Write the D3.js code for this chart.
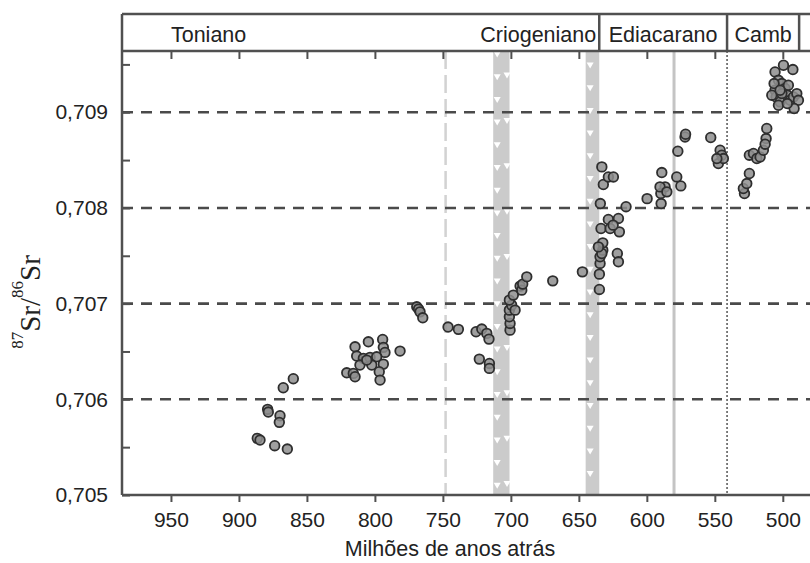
<!DOCTYPE html>
<html>
<head>
<meta charset="utf-8">
<script src="https://cdn.jsdelivr.net/npm/d3@7"></script>
<style>
  body { margin: 0; background: #fff; }
  svg { display: block; font-family: "Liberation Sans", Arial, sans-serif; }
</style>
</head>
<body>
<svg id="chart" width="810" height="563"></svg>
<script>
'use strict';

// age (Ma) and 87Sr/86Sr of each sample
var ages = [
    886.5, 884.5, 873.7, 864.4, 878.9, 878.4, 869.8, 870.3, 867.4, 860.0,
    820.7, 815.9, 814.6, 814.6, 804.8, 794.3, 793.8, 792.6, 781.5, 813.4,
    808.5, 803.6, 798.7, 811.0, 802.3, 793.8, 796.8, 796.2, 806.0,
    769.2, 767.9, 766.8, 764.8,
    746.2, 738.6, 725.6, 721.4, 717.7, 716.1, 723.2, 715.8, 715.8,
    700.6, 700.6, 701.1, 701.1, 699.4, 701.1, 698.2, 696.9, 693.2, 692.0, 691.3, 688.3,
    669.2, 647.4,
    634.9, 634.9, 634.4, 634.4, 632.4, 632.4, 633.1, 635.6, 621.7, 620.9,
    633.7, 628.3, 627.0, 620.9, 620.2, 624.8, 634.2, 615.3, 633.1, 632.0, 628.3, 624.6,
    599.8, 589.0, 586.6, 589.7, 589.5, 590.3, 585.3, 578.0, 575.0,
    577.2, 571.9, 571.5, 553.0, 546.1, 544.9, 547.4, 543.7, 548.5,
    528.2, 529.0, 526.5, 524.6, 524.6, 521.6, 519.1, 516.7, 514.3, 512.3, 511.8, 513.0,
    505.7, 499.5, 492.6, 503.2, 500.7, 498.3, 505.7, 504.9, 502.0, 503.2, 496.7,
    494.6, 492.2, 489.7, 488.5, 491.7, 496.7, 500.7, 508.1, 506.4, 495.9, 502.0
];
var ratios = [
    0.705592, 0.705574, 0.705515, 0.705480, 0.705895, 0.705867, 0.705828, 0.705759, 0.706121, 0.706215,
    0.706277, 0.706271, 0.706236, 0.706549, 0.706601, 0.706626, 0.706543, 0.706490, 0.706504, 0.706452,
    0.706428, 0.706438, 0.706444, 0.706358, 0.706358, 0.706368, 0.706288, 0.706201, 0.706410,
    0.706967, 0.706943, 0.706914, 0.706852,
    0.706755, 0.706731, 0.706706, 0.706734, 0.706689, 0.706629, 0.706420, 0.706375, 0.706323,
    0.706723, 0.706793, 0.706862, 0.706932, 0.706984, 0.707037, 0.707089, 0.706932, 0.707183, 0.707141, 0.707204, 0.707280,
    0.707238, 0.707332,
    0.707148, 0.707308, 0.707420, 0.707489, 0.707559, 0.707635, 0.707524, 0.707593, 0.707524, 0.707437,
    0.707785, 0.707879, 0.707785, 0.707890, 0.707750, 0.707820, 0.708046, 0.708013, 0.708429, 0.708245, 0.708324, 0.708324,
    0.708097, 0.708370, 0.708220, 0.708151, 0.708046, 0.708220, 0.708168, 0.708324, 0.708230,
    0.708593, 0.708742, 0.708770, 0.708736, 0.708603, 0.708551, 0.708464, 0.708516, 0.708516,
    0.708151, 0.708203, 0.708255, 0.708360, 0.708551, 0.708569, 0.708516, 0.708533, 0.708603, 0.708725, 0.708830, 0.708666,
    0.709421, 0.709491, 0.709446, 0.709334, 0.709300, 0.709248, 0.709230, 0.709160, 0.709108, 0.709073, 0.709178,
    0.709125, 0.709160, 0.709195, 0.709125, 0.709039, 0.709091, 0.709195, 0.709178, 0.709300, 0.709282, 0.709230
];

var xTicks = [950, 900, 850, 800, 750, 700, 650, 600, 550, 500];
var yTicks = [0.705, 0.706, 0.707, 0.708, 0.709];
var yMinorTicks = [0.7055, 0.7065, 0.7075, 0.7085, 0.7095];
var gridValues = [0.706, 0.707, 0.708, 0.709];

var periodNames = ["Toniano", "Criogeniano", "Ediacarano", "Camb"];
var periodEdges = [635, 541, 488];          // lines inside the header box
var glacialBands = [[713, 701], [645, 635]];
var dashedAge = 748;
var gaskiersAge = 580;
var cambrianBase = 541;

var svg = d3.select("#chart");
var plotLeft = 122, plotRight = 810, plotTop = 51, plotBottom = 495, boxTop = 14;
var frameColor = "#505050";

var x = d3.scaleLinear().domain([986, 480]).range([plotLeft, plotRight]);
var y = d3.scaleLinear().domain([0.705, 0.70964]).range([plotBottom, plotTop]);

var ptBR = d3.formatLocale({ decimal: ",", thousands: ".", grouping: [3], currency: ["", ""] });
var fmtRatio = ptBR.format(".3f");

// glacial bands with the little white triangles
var bands = svg.append("g");
bands.selectAll("rect").data(glacialBands).enter().append("rect")
    .attr("x", function(d) { return x(d[0]); })
    .attr("width", function(d) { return x(d[1]) - x(d[0]); })
    .attr("y", plotTop)
    .attr("height", plotBottom - plotTop)
    .attr("fill", "#cbcbcb");

var tri = "M-3.5,-2.5L3.5,-2.5L0,3.5Z";
var triCols = [
    { cx: x(glacialBands[0][0]) + 4, y0: 54, step: 22.7 },
    { cx: x(glacialBands[0][1]) - 2.5, y0: 75, step: 45.4 },
    { cx: x(glacialBands[1][0]) + 4.5, y0: 65, step: 22.7 }
];
triCols.forEach(function(c) {
    bands.selectAll(null).data(d3.range(c.y0, plotBottom - 4, c.step)).enter().append("path")
        .attr("d", tri)
        .attr("transform", function(v) { return "translate(" + c.cx + "," + v + ")"; })
        .attr("fill", "#fff");
});

// event lines
svg.append("line")
    .attr("x1", x(dashedAge)).attr("x2", x(dashedAge))
    .attr("y1", plotTop).attr("y2", plotBottom)
    .attr("stroke", "#d2d2d2").attr("stroke-width", 2.5)
    .attr("stroke-dasharray", "18,6");
svg.append("line")
    .attr("x1", x(gaskiersAge)).attr("x2", x(gaskiersAge))
    .attr("y1", plotTop).attr("y2", plotBottom)
    .attr("stroke", "#c4c4c4").attr("stroke-width", 3);
svg.append("line")
    .attr("x1", x(cambrianBase)).attr("x2", x(cambrianBase))
    .attr("y1", plotTop).attr("y2", plotBottom)
    .attr("stroke", "#555").attr("stroke-width", 1.5)
    .attr("stroke-dasharray", "2,2");

// horizontal dashed reference lines
svg.append("g").selectAll("line").data(gridValues).enter().append("line")
    .attr("x1", plotLeft).attr("x2", plotRight)
    .attr("y1", function(d) { return y(d); })
    .attr("y2", function(d) { return y(d); })
    .attr("stroke", "#4a4a4a").attr("stroke-width", 2.6)
    .attr("stroke-dasharray", "11,8");

// samples
svg.append("g").selectAll("circle").data(ages).enter().append("circle")
    .attr("cx", function(d) { return x(d); })
    .attr("cy", function(d, i) { return y(ratios[i]); })
    .attr("r", 4.8)
    .attr("fill", "#8e8e8e")
    .attr("fill-opacity", 0.85)
    .attr("stroke", "#2e2e2e")
    .attr("stroke-width", 1.8);

// axes
var xAxis = svg.append("g")
    .attr("transform", "translate(0," + plotBottom + ")")
    .call(d3.axisBottom(x).tickValues(xTicks).tickSize(7).tickPadding(10).tickFormat(d3.format("d")));
var xTopAxis = svg.append("g")
    .attr("transform", "translate(0," + plotTop + ")")
    .call(d3.axisTop(x).tickValues(xTicks).tickSize(-8).tickFormat(""));
var yAxis = svg.append("g")
    .attr("transform", "translate(" + plotLeft + ",0)")
    .call(d3.axisLeft(y).tickValues(yTicks).tickSize(-8).tickPadding(14).tickFormat(fmtRatio));
var yMinor = svg.append("g")
    .attr("transform", "translate(" + plotLeft + ",0)")
    .call(d3.axisLeft(y).tickValues(yMinorTicks).tickSize(-8).tickFormat(""));

[xAxis, xTopAxis, yAxis, yMinor].forEach(function(g) {
    g.select(".domain").remove();
    g.selectAll(".tick line").attr("stroke", frameColor).attr("stroke-width", 2);
    g.selectAll(".tick text")
        .attr("fill", "#222")
        .style("font-size", "21px")
        .style("font-family", "'Liberation Sans', Arial, sans-serif");
});

// frame and header box
var frame = svg.append("g")
    .attr("stroke", frameColor)
    .attr("stroke-width", 2.5)
    .attr("fill", "none");
frame.append("line").attr("x1", plotLeft).attr("x2", plotLeft).attr("y1", boxTop).attr("y2", plotBottom);
frame.append("line").attr("x1", plotLeft).attr("x2", plotRight).attr("y1", plotBottom).attr("y2", plotBottom);
frame.append("line").attr("x1", plotLeft).attr("x2", plotRight).attr("y1", plotTop).attr("y2", plotTop);
frame.append("line").attr("x1", plotLeft).attr("x2", plotRight).attr("y1", boxTop).attr("y2", boxTop);
frame.selectAll(null).data(periodEdges).enter().append("line")
    .attr("x1", function(d) { return x(d); })
    .attr("x2", function(d) { return x(d); })
    .attr("y1", boxTop).attr("y2", plotTop);

var header = svg.append("g")
    .style("font-size", "21.5px")
    .attr("fill", "#222");
header.append("text").attr("x", x(950)).attr("y", 42).text(periodNames[0]);
header.append("text").attr("x", x(periodEdges[0]) - 3).attr("y", 42)
    .attr("text-anchor", "end").text(periodNames[1]);
header.append("text").attr("x", (x(periodEdges[0]) + x(periodEdges[1])) / 2).attr("y", 42)
    .attr("text-anchor", "middle").text(periodNames[2]);
header.append("text").attr("x", (x(periodEdges[1]) + x(periodEdges[2])) / 2).attr("y", 42)
    .attr("text-anchor", "middle").text(periodNames[3]);

// axis titles
svg.append("text")
    .attr("x", 450).attr("y", 556)
    .attr("text-anchor", "middle")
    .style("font-size", "21.5px")
    .attr("fill", "#222")
    .text("Milhões de anos atrás");

var yTitle = svg.append("text")
    .attr("transform", "translate(40,302) rotate(-90)")
    .attr("text-anchor", "middle")
    .attr("fill", "#222")
    .style("font-family", "'Liberation Serif', 'Times New Roman', serif")
    .style("font-size", "29px");
yTitle.append("tspan").attr("dy", -17).style("font-size", "17px").text("87");
yTitle.append("tspan").attr("dy", 17).text("Sr/");
yTitle.append("tspan").attr("dy", -17).style("font-size", "17px").text("86");
yTitle.append("tspan").attr("dy", 17).text("Sr");
</script>
</body>
</html>
